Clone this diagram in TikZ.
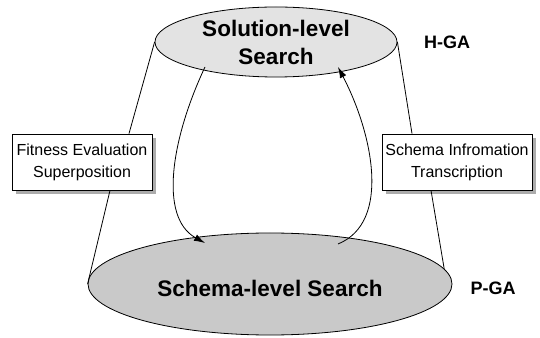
\documentclass[tikz,border=0pt]{standalone}
\usepackage{fontspec}
\setmainfont{Liberation Sans}
\usetikzlibrary{calc,shapes.geometric,shadows,arrows.meta}

\tikzset{
  level/.style={ellipse, draw, thick, inner sep=0pt, align=center,
    font=\fontsize{22.5}{28}\selectfont\bfseries},
  opbox/.style={rectangle, draw, thick, fill=white, align=center,
    minimum height=56pt, font=\fontsize{16}{22}\selectfont,
    drop shadow={shadow xshift=4pt, shadow yshift=-4pt, fill=gray!65, opacity=1}},
  gatag/.style={font=\fontsize{18}{18}\selectfont\bfseries},
  flow/.style={thick, -{Latex[length=11pt,width=7pt]}}
}

\begin{document}
\begin{tikzpicture}[x=1pt,y=1pt]
\useasboundingbox (0,0) rectangle (540,337);

\node[level, fill=gray!22, minimum width=242pt, minimum height=70pt] (sol) at (276,295) {Solution-level\\Search};
\node[level, fill=gray!42, minimum width=364pt, minimum height=102pt] (sch) at (270,53) {};
\node[font=\fontsize{22.5}{28}\selectfont\bfseries] (schtxt) at (270,49) {Schema-level Search};

\node[opbox, minimum width=140pt] (fit) at (82,175) {Fitness Evaluation\\Superposition};
\node[opbox, minimum width=150pt] (trans) at (457,175) {Schema Infromation\\Transcription};

\node[gatag] (hga) at (447,295) {H-GA};
\node[gatag] (pga) at (493,49) {P-GA};

% side lines
\draw[thick] (sol.west) -- ($(fit.north)+(47,0)$);
\draw[thick] ($(fit.south)+(28,0)$) -- (sch.west);
\draw[thick] (sol.east) -- ($(trans.north)+(-45,0)$);
\draw[thick] ($(trans.south)+(-26,0)$) -- (sch.5);

% search flows
\draw[flow] ($(sol.center)+(-71,-25)$) .. controls (172,200) and (158,120) .. ($(sch.center)+(-65,41)$);
\draw[flow] ($(sch.center)+(68,40)$) .. controls (392,115) and (372,205) .. ($(sol.center)+(62,-25)$);
\end{tikzpicture}
\end{document}
